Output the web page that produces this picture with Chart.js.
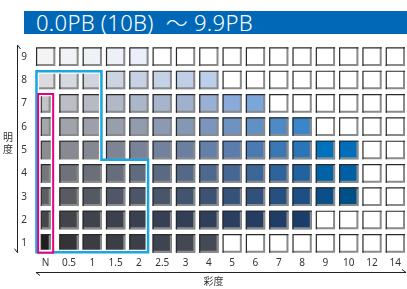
<!DOCTYPE html>
<html>
<head>
<meta charset="utf-8">
<script src="https://cdn.jsdelivr.net/npm/chart.js@4"></script>
<style>
  html, body { margin: 0; padding: 0; background: #fff; }
  #wrap { position: relative; width: 407px; height: 289px; }
  #title {
    position: absolute; left: 24px; top: 11px; width: 383px; height: 23px;
    background: #0068b7; color: #fff;
    font-family: "Noto Sans", "Noto Sans CJK JP", sans-serif; font-weight: 300; font-size: 22px;
    letter-spacing: 0.3px;
    line-height: 23px; padding-left: 12px; box-sizing: border-box; white-space: pre; overflow: hidden;
  }
  canvas { position: absolute; left: 0; top: 0; }
</style>
</head>
<body>
<div id="wrap">
  <canvas id="chart" width="407" height="289"></canvas>
  <div id="title">0.0PB (10B)  ～ 9.9PB</div>
</div>
<script>
/* ---- data ----------------------------------------------------------------- */
const chromaLabels = ['N', '0.5', '1', '1.5', '2', '2.5', '3', '4', '5', '6', '7', '8', '9', '10', '12', '14'];
const valueLabels  = [1, 2, 3, 4, 5, 6, 7, 8, 9];

// colour of each filled cell, from N upward; cells past the end are empty (white)
const row9 = ['#f4f4f4', '#f1f2f5', '#eef1f6', '#edf0f7', '#eaeff9'];
const row8 = ['#dcdcde', '#d5d8e0', '#cfd4df', '#ccd3e1', '#c8d1e4', '#c5d1e6', '#c0cee8', '#bccfea'];
const row7 = ['#c3c4c6', '#bbbec5', '#b5bac5', '#b1b8c7', '#acb6c9', '#a6b4cc', '#a0b1d0', '#99b0d5', '#8aaad9', '#7ba6da'];
const row6 = ['#a6a7aa', '#a0a3aa', '#9ba0aa', '#979fad', '#919caf', '#8b9ab2', '#8498b6', '#7c95bc', '#6f93c1', '#6190c5', '#4f8ac6', '#3b86c9'];
const row5 = ['#8d8e91', '#878a92', '#838892', '#7d8495', '#788399', '#72819c', '#6b80a1', '#6580a8', '#5a7dae', '#4b7ab2', '#3a78b4', '#2975b7', '#0071bc', '#006ebb'];
const row4 = ['#757679', '#6f727a', '#6a6f7a', '#666d7d', '#616b7f', '#5b6a83', '#556888', '#4f688e', '#466794', '#3c6698', '#2e649c', '#21639f', '#0063a6', '#0060a3'];
const row3 = ['#5d5e61', '#595b62', '#555963', '#515766', '#4d5668', '#48556b', '#425470', '#3c5374', '#365279', '#2f517c', '#265080', '#1c4f83', '#0b4f8a', '#005088'];
const row2 = ['#464749', '#42444a', '#3f434b', '#3c414e', '#394050', '#363f53', '#323f57', '#2e3e5b', '#2a3e5f', '#263d63', '#203d66', '#1a3d6a'];
const row1 = ['#211e1f', '#343337', '#3b3d42', '#3b3e45', '#3b3f48', '#3f4451', '#434854', '#444b56'];
const rowColours = { 1: row1, 2: row2, 3: row3, 4: row4, 5: row5, 6: row6, 7: row7, 8: row8, 9: row9 };

// rows whose N cell is drawn narrow (the achromatic strip)
const narrowNRows = [1, 2, 3, 4, 5, 6, 7];

/* ---- geometry ------------------------------------------------------------- */
const CELL_W   = 0.83;   // of a column
const NARROW_W = 0.43;
const HALF_H   = 0.4;    // in value units

/* ---- datasets ------------------------------------------------------------- */
const datasets = [];
valueLabels.forEach(v => {
  const cols = rowColours[v];
  const narrow = narrowNRows.includes(v);
  datasets.push({
    label: 'V' + v,
    data: chromaLabels.map((c, i) => (narrow && i === 0) ? null : [v - HALF_H, v + HALF_H]),
    backgroundColor: chromaLabels.map((c, i) => cols[i] || '#ffffff'),
    barPercentage: CELL_W, categoryPercentage: 1, grouped: false, borderWidth: 0
  });
  if (narrow) {
    datasets.push({
      label: 'N' + v,
      data: chromaLabels.map((c, i) => i === 0 ? [v - HALF_H, v + HALF_H] : null),
      backgroundColor: cols[0],
      barPercentage: NARROW_W, categoryPercentage: 1, grouped: false, borderWidth: 0
    });
  }
});

/* ---- plugin: bevelled cell edges ------------------------------------------ */
const bevel = {
  id: 'bevel',
  afterDatasetsDraw(chart) {
    const c = chart.ctx;
    c.save();
    chart.data.datasets.forEach((ds, di) => {
      chart.getDatasetMeta(di).data.forEach((el, i) => {
        if (ds.data[i] == null) return;
        const p = el.getProps(['x', 'y', 'base', 'width'], true);
        const l = p.x - p.width / 2, r = p.x + p.width / 2;
        const t = Math.min(p.y, p.base), b = Math.max(p.y, p.base);
        c.strokeStyle = '#8a8a8a'; c.lineWidth = 2;
        c.beginPath(); c.moveTo(r - 1, t); c.lineTo(r - 1, b - 1); c.lineTo(l, b - 1); c.stroke();
        c.strokeStyle = '#2a2a2a'; c.lineWidth = 1.2;
        c.beginPath(); c.moveTo(l + 0.6, b); c.lineTo(l + 0.6, t + 0.6); c.lineTo(r, t + 0.6); c.stroke();
      });
    });
    c.restore();
  }
};

/* ---- plugin: outlines, axis arrows, axis titles ---------------------------- */
const overlay = {
  id: 'overlay',
  afterDraw(chart) {
    const c = chart.ctx, x = chart.scales.x, y = chart.scales.y;
    const pitch = x.getPixelForValue(1) - x.getPixelForValue(0);
    const colL = i => x.getPixelForValue(i) - pitch * CELL_W / 2;
    const colR = i => x.getPixelForValue(i) + pitch * CELL_W / 2;
    const top  = v => y.getPixelForValue(v + HALF_H);
    const bot  = v => y.getPixelForValue(v - HALF_H);

    // blue region: rows 5-8 up to chroma 1, rows 1-4 up to chroma 2
    const L = colL(0), R1 = colR(2), R2 = colR(4), T = top(8), S = bot(5), B = bot(1);
    const poly = (d) => {
      c.beginPath();
      c.moveTo(L + d, T + d); c.lineTo(R1 - d, T + d); c.lineTo(R1 - d, S + d);
      c.lineTo(R2 - d, S + d); c.lineTo(R2 - d, B - d); c.lineTo(L + d, B - d);
      c.closePath(); c.stroke();
    };
    c.save();
    c.strokeStyle = '#ffffff'; c.lineWidth = 2; poly(2);
    c.strokeStyle = '#1aa6e0'; c.lineWidth = 2.5; poly(0.5);

    // magenta strip round the N column, rows 1-7
    const nx = x.getPixelForValue(0), nh = pitch * NARROW_W / 2 + 2.5;
    c.strokeStyle = '#ffffff'; c.lineWidth = 1.5;
    c.strokeRect(nx - nh + 1.5, top(7) + 1.5, 2 * nh - 3, bot(1) - top(7) - 3);
    c.strokeStyle = '#e4007f'; c.lineWidth = 2;
    c.strokeRect(nx - nh, top(7), 2 * nh, bot(1) - top(7));

    // axis lines with half arrow heads
    c.strokeStyle = '#222'; c.lineWidth = 1;
    const ax = 17.5, ay0 = y.top, ay1 = bot(1);
    c.beginPath(); c.moveTo(ax, ay1); c.lineTo(ax, ay0); c.lineTo(ax + 3, ay0 + 4);
    c.moveTo(ax, ay1); c.lineTo(ax - 3, ay1 - 4); c.stroke();
    const hy = 272.5, hx0 = colL(0), hx1 = chart.width - 1;
    c.beginPath(); c.moveTo(hx0, hy); c.lineTo(hx1, hy); c.lineTo(hx1 - 4, hy - 3);
    c.moveTo(hx0, hy); c.lineTo(hx0 + 4, hy + 3); c.stroke();

    // axis titles
    c.fillStyle = '#333';
    c.font = '10px "Noto Sans CJK JP", "Noto Sans", sans-serif';
    c.textAlign = 'center'; c.textBaseline = 'middle';
    c.fillText('明', 8, 137);
    c.fillText('度', 8, 149);
    c.fillText('彩度', (x.left + x.right) / 2 - 7, 281);
    c.restore();
  }
};

/* ---- chart ---------------------------------------------------------------- */
new Chart(document.getElementById('chart'), {
  type: 'bar',
  data: { labels: chromaLabels, datasets },
  options: {
    responsive: false,
    animation: false,
    layout: { padding: { top: 45, right: 0, bottom: 0, left: 0 } },
    plugins: { legend: { display: false }, tooltip: { enabled: false } },
    scales: {
      x: {
        type: 'category', offset: true,
        grid: { display: false, drawTicks: false }, border: { display: false },
        ticks: { color: '#333', font: { family: 'Noto Sans', size: 10 }, padding: 2, autoSkip: false, maxRotation: 0 },
        afterFit: s => { s.height = 34; }
      },
      y: {
        type: 'linear', min: 0.5, max: 9.5,
        grid: { display: false, drawTicks: false }, border: { display: false },
        afterBuildTicks: s => { s.ticks = valueLabels.map(v => ({ value: v })); },
        ticks: { color: '#333', font: { family: 'Noto Sans', size: 10 }, padding: 7 },
        afterFit: s => { s.width = 34; }
      }
    }
  },
  plugins: [bevel, overlay]
});
</script>
</body>
</html>
